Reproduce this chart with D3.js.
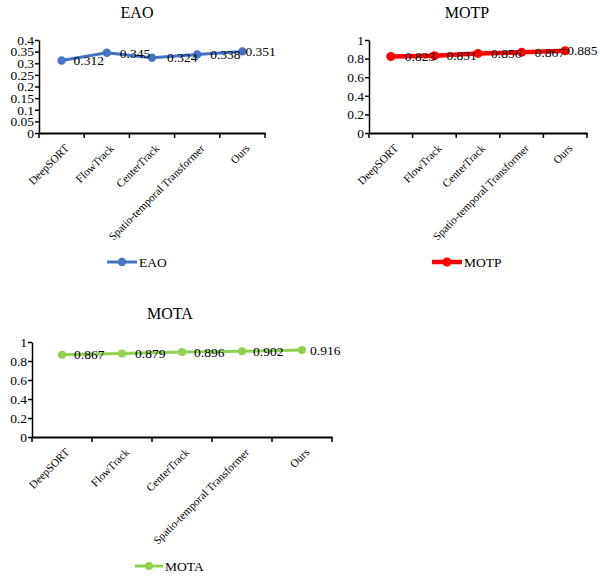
<!DOCTYPE html>
<html>
<head>
<meta charset="utf-8">
<script src="https://cdn.jsdelivr.net/npm/d3@7"></script>
<style>
  html, body { margin: 0; padding: 0; background: #fff; }
  svg { display: block; }
  svg text { font-family: "Liberation Serif", "Times New Roman", serif !important; fill: #000; }
</style>
</head>
<body>
<svg id="chart" width="600" height="578"></svg>
<script>
const categories = ["DeepSORT", "FlowTrack", "CenterTrack", "Spatio-temporal Transformer", "Ours"];
const eaoValues = [0.312, 0.345, 0.324, 0.338, 0.351];
const motpValues = [0.823, 0.831, 0.856, 0.867, 0.885];
const motaValues = [0.867, 0.879, 0.896, 0.902, 0.916];
const eaoTicks = [0, 0.05, 0.1, 0.15, 0.2, 0.25, 0.3, 0.35, 0.4];
const motpTicks = [0, 0.2, 0.4, 0.6, 0.8, 1];
const motaTicks = [0, 0.2, 0.4, 0.6, 0.8, 1];

const svg = d3.select("#chart");

const charts = [
  { title: "EAO", values: eaoValues, ticks: eaoTicks, max: 0.4, color: "#4472C4",
    x0: 39, x1: 265, yTop: 40, yBot: 133, titleX: 137, titleY: 18,
    legX0: 107, legX1: 137, legY: 262, lw: 3, r: 4.2, labelDx: [12, 13, 15, 13, 3] },
  { title: "MOTP", values: motpValues, ticks: motpTicks, max: 1, color: "#FF0000",
    x0: 369, x1: 587, yTop: 40, yBot: 133, titleX: 467, titleY: 18,
    legX0: 432, legX1: 462, legY: 262, lw: 4.5, r: 4.5, labelDx: [14, 12, 13, 13, 2] },
  { title: "MOTA", values: motaValues, ticks: motaTicks, max: 1, color: "#92D050",
    x0: 32, x1: 332, yTop: 342, yBot: 437, titleX: 170, titleY: 319,
    legX0: 135, legX1: 163, legY: 566, lw: 3, r: 4, labelDx: [12, 13, 12, 11, 8] }
];

const fmt = d => String(+d.toFixed(3));

charts.forEach(c => {
  const g = svg.append("g");
  const x = d3.scaleBand().domain(categories).range([c.x0, c.x1]).paddingInner(0).paddingOuter(0);
  const y = d3.scaleLinear().domain([0, c.max]).range([c.yBot, c.yTop]);
  const cx = i => x(categories[i]) + x.bandwidth() / 2;

  // title
  g.append("text").attr("x", c.titleX).attr("y", c.titleY)
    .attr("text-anchor", "middle").attr("font-size", 16).text(c.title);

  // y axis
  const ya = g.append("g").attr("transform", `translate(${c.x0},0)`)
    .call(d3.axisLeft(y).tickValues(c.ticks).tickSize(4).tickSizeOuter(0).tickPadding(1).tickFormat(fmt));
  ya.selectAll("path,line").attr("stroke", "#000").attr("stroke-width", 1.5);
  ya.selectAll("text").attr("font-size", 13.5);

  // x axis
  const xa = g.append("g").attr("transform", `translate(0,${c.yBot})`)
    .call(d3.axisBottom(x).tickSize(0).tickSizeOuter(0).tickFormat(""));
  xa.select("path").attr("stroke", "#000").attr("stroke-width", 2);
  const edges = categories.map(d => x(d)).concat([c.x1]);
  g.selectAll(".xt").data(edges).enter().append("line")
    .attr("x1", d => d).attr("x2", d => d)
    .attr("y1", c.yBot).attr("y2", c.yBot + 5)
    .attr("stroke", "#000").attr("stroke-width", 1.5);
  g.selectAll(".xl").data(categories).enter().append("text")
    .attr("transform", (d, i) => `translate(${cx(i) + 8},${c.yBot + 16}) rotate(-45)`)
    .attr("text-anchor", "end").attr("font-size", 11.2)
    .text(d => d);

  // line
  const line = d3.line().x((d, i) => cx(i)).y(d => y(d));
  g.append("path").datum(c.values).attr("d", line)
    .attr("fill", "none").attr("stroke", c.color).attr("stroke-width", c.lw);
  g.selectAll(".pt").data(c.values).enter().append("circle")
    .attr("cx", (d, i) => cx(i))
    .attr("cy", d => y(d)).attr("r", c.r).attr("fill", c.color);

  // data labels
  g.selectAll(".dl").data(c.values).enter().append("text")
    .attr("x", (d, i) => cx(i) + c.labelDx[i])
    .attr("y", d => y(d)).attr("dy", "0.35em")
    .attr("font-size", 13.5)
    .text(d => d.toFixed(3));

  // legend
  g.append("line").attr("x1", c.legX0).attr("x2", c.legX1).attr("y1", c.legY).attr("y2", c.legY)
    .attr("stroke", c.color).attr("stroke-width", c.lw);
  g.append("circle").attr("cx", (c.legX0 + c.legX1) / 2).attr("cy", c.legY).attr("r", c.r).attr("fill", c.color);
  g.append("text").attr("x", c.legX1 + 2).attr("y", c.legY).attr("dy", "0.35em")
    .attr("font-size", 13.5).text(c.title);
});
</script>
</body>
</html>
